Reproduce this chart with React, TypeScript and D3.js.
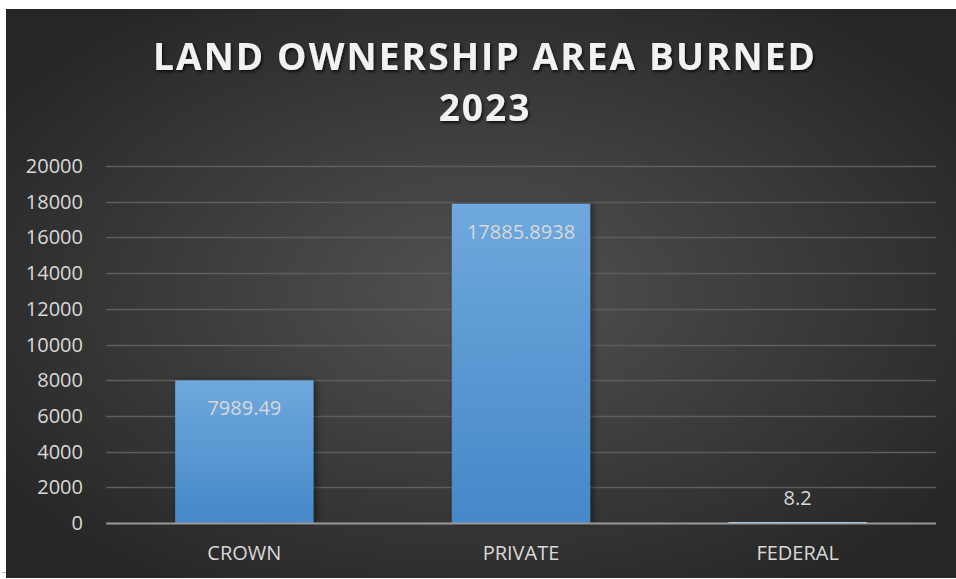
import React from "react";
import * as d3 from "d3";

const categories = ["CROWN", "PRIVATE", "FEDERAL"];
const values = [7989.49, 17885.8938, 8.2];
const valueLabels = ["7989.49", "17885.8938", "8.2"];
const yTicks = [0, 2000, 4000, 6000, 8000, 10000, 12000, 14000, 16000, 18000, 20000];
const titleLines = ["LAND OWNERSHIP AREA BURNED", "2023"];

export default function App() {
  const W = 956, H = 579;
  const plot = { left: 106, right: 936, top: 166, bottom: 523 };
  const x = d3.scaleBand().domain(categories).range([plot.left, plot.right]).paddingInner(0.5).paddingOuter(0.25);
  const y = d3.scaleLinear().domain([0, 20000]).range([plot.bottom, plot.top]);
  const font = "'Open Sans', 'Noto Sans', sans-serif";
  return (
    <svg width={W} height={H} style={{ position: "absolute", left: 0, top: 0, display: "block" }}>
      <defs>
        <radialGradient id="bg" cx="0.5" cy="0.5" r="0.62" fx="0.5" fy="0.5">
          <stop offset="0" stopColor="#525252" />
          <stop offset="1" stopColor="#262626" />
        </radialGradient>
        <linearGradient id="bar" x1="0" y1="0" x2="0" y2="1">
          <stop offset="0" stopColor="#6fa8dd" />
          <stop offset="1" stopColor="#4588c8" />
        </linearGradient>
        <filter id="tshadow" x="-10%" y="-30%" width="120%" height="160%">
          <feDropShadow dx="1.5" dy="2" stdDeviation="1.5" floodColor="#000" floodOpacity="0.7" />
        </filter>
        <filter id="bshadow" x="-10%" y="-10%" width="130%" height="120%">
          <feDropShadow dx="3" dy="0" stdDeviation="3" floodColor="#000" floodOpacity="0.45" />
        </filter>
      </defs>
      <rect x={6} y={9} width={W - 6} height={H - 10} fill="url(#bg)" />
      <line x1={2} x2={6} y1={572.5} y2={572.5} stroke="#bbb" strokeWidth={1} />
      {/* grid */}
      {yTicks.filter(t => t > 0).map(t => (
        <line key={t} x1={plot.left} x2={plot.right} y1={Math.round(y(t)) + 0.5} y2={Math.round(y(t)) + 0.5} stroke="#5e5e5e" strokeWidth={1.3} />
      ))}
      {/* y tick labels */}
      {yTicks.map(t => (
        <text key={t} x={83} y={y(t)} dy="0.35em" textAnchor="end" fill="#d9d9d9" fontSize={20} fontFamily={font}>{t}</text>
      ))}
      {/* bars */}
      {categories.map((c, i) => (
        <rect key={c} x={x(c)} y={y(values[i])} width={x.bandwidth()} height={plot.bottom - y(values[i])} fill="url(#bar)" filter="url(#bshadow)" />
      ))}
      {/* axis line */}
      <line x1={plot.left} x2={plot.right} y1={plot.bottom + 0.5} y2={plot.bottom + 0.5} stroke="#9a9a9a" strokeWidth={2} />
      {categories.map((c, i) => (
        values[i] > 1000 ? null : (
          <line key={c} x1={x(c)} x2={(x(c) as number) + x.bandwidth()} y1={plot.bottom - 0.5} y2={plot.bottom - 0.5} stroke="#a9c9e8" strokeWidth={1} />
        )
      ))}
      {/* value labels */}
      {categories.map((c, i) => {
        const inside = values[i] > 1000;
        const cx = (x(c) as number) + x.bandwidth() / 2;
        const ly = inside ? y(values[i]) + 28 : y(values[i]) - 25;
        return (
          <text key={c} x={cx} y={ly} dy="0.35em" textAnchor="middle" fill="#d9d9d9" fontSize={20} fontFamily={font}>{valueLabels[i]}</text>
        );
      })}
      {/* category labels */}
      {categories.map(c => (
        <text key={c} x={(x(c) as number) + x.bandwidth() / 2} y={553} dy="0.35em" textAnchor="middle" fill="#d9d9d9" fontSize={20} fontFamily={font}>{c}</text>
      ))}
      {/* title */}
      <g filter="url(#tshadow)">
        <text x={484} y={70} textAnchor="middle" fill="#f2f2f2" fontSize={37} fontWeight="bold" fontFamily={font} textLength={662} lengthAdjust="spacing">{titleLines[0]}</text>
        <text x={485} y={121} textAnchor="middle" fill="#f2f2f2" fontSize={37} fontWeight="bold" fontFamily={font} letterSpacing={2}>{titleLines[1]}</text>
      </g>
    </svg>
  );
}
